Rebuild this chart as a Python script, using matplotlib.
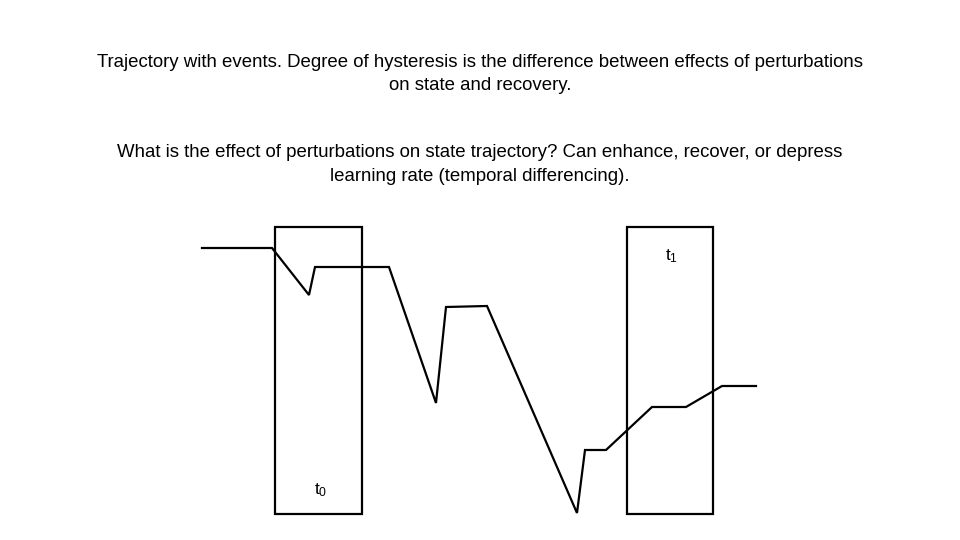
import matplotlib.pyplot as plt
from matplotlib.patches import Rectangle

# Trajectory (slide coordinates, y grows downward)
traj_x = [202, 272, 309, 315, 389, 436, 446, 487, 577, 585, 606, 652, 686, 722, 756]
traj_y = [248, 248, 295, 267, 267, 403, 307, 306, 513, 450, 450, 407, 407, 386, 386]

# Event windows
event_labels = [r"$\mathregular{t_0}$", r"$\mathregular{t_1}$"]
event_x0 = [275, 627]
event_x1 = [362, 713]
event_top = 227
event_bottom = 514

title1 = ("Trajectory with events. Degree of hysteresis is the difference between effects of perturbations\n"
          "on state and recovery.")
title2 = ("What is the effect of perturbations on state trajectory? Can enhance, recover, or depress\n"
          "learning rate (temporal differencing).")

plt.rcParams['font.family'] = ['Liberation Sans', 'DejaVu Sans']
plt.rcParams['mathtext.fontset'] = 'custom'
plt.rcParams['mathtext.rm'] = 'Liberation Sans'
plt.rcParams['mathtext.it'] = 'Liberation Sans'

fig = plt.figure(figsize=(9.6, 5.4), dpi=100)
ax = fig.add_axes([0, 0, 1, 1])
ax.set_xlim(0, 960)
ax.set_ylim(540, 0)
ax.axis('off')

ax.text(480, 74, title1, ha='center', va='center', fontsize=13.4, linespacing=1.5)
ax.text(480, 164.5, title2, ha='center', va='center', fontsize=13.4, linespacing=1.5)

for i, lab in enumerate(event_labels):
    ax.add_patch(Rectangle((event_x0[i], event_top), event_x1[i] - event_x0[i],
                           event_bottom - event_top, fill=False, ec='black', lw=1.6))
label_y = [490, 256]
for i, lab in enumerate(event_labels):
    ax.text((event_x0[i] + event_x1[i]) / 2 + 2, label_y[i], lab, ha='center', va='center',
            fontsize=12.5)

ax.plot(traj_x, traj_y, color='black', lw=1.6, solid_joinstyle='miter')

fig.savefig('out.png', dpi=100)
